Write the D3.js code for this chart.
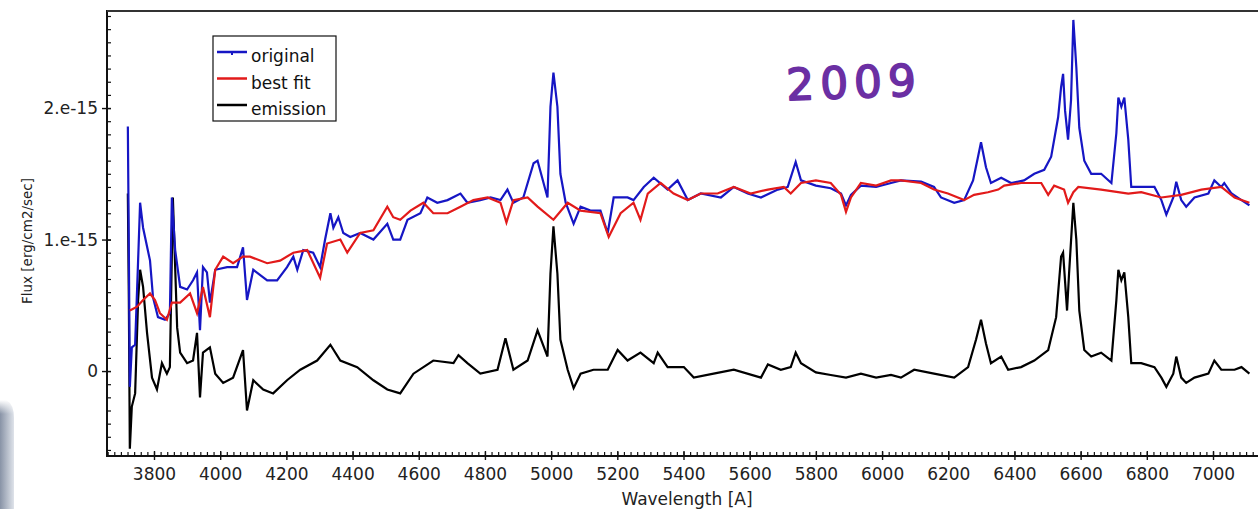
<!DOCTYPE html>
<html>
<head>
<meta charset="utf-8">
<script src="https://cdn.jsdelivr.net/npm/d3@7"></script>
<style>
  html, body { margin: 0; padding: 0; background: #fff; overflow: hidden; }
  svg { display: block; font-family: "DejaVu Sans", Verdana, sans-serif; }
</style>
</head>
<body>
<svg id="chart" width="1258" height="509"></svg>
<script>
'use strict';

// wavelength [A], flux in units of 1e-15 erg/cm2/sec
var original = [
  [3721,1.86],[3724,0.92],[3727,-0.12],[3733,0.18],[3743,0.20],[3752,0.84],[3758,1.28],[3767,1.09],
  [3788,0.84],[3797,0.56],[3812,0.41],[3833,0.39],[3848,0.44],[3854,1.32],[3864,0.92],[3879,0.64],
  [3900,0.62],[3918,0.69],[3930,0.75],[3939,0.31],[3948,0.79],[3960,0.75],[3969,0.52],[3985,0.77],
  [4021,0.79],[4051,0.79],[4069,0.94],[4081,0.54],[4100,0.77],[4142,0.69],[4172,0.69],[4202,0.79],
  [4221,0.87],[4233,0.77],[4251,0.92],[4281,0.90],[4302,0.79],[4317,1.00],[4333,1.20],[4342,1.09],
  [4357,1.17],[4372,1.05],[4393,1.02],[4423,1.05],[4463,1.00],[4505,1.12],[4523,1.00],[4544,1.00],
  [4566,1.15],[4605,1.20],[4626,1.32],[4656,1.28],[4687,1.30],[4726,1.35],[4747,1.28],[4786,1.30],
  [4817,1.32],[4847,1.30],[4868,1.38],[4886,1.28],[4916,1.32],[4947,1.58],[4959,1.60],[4989,1.32],
  [4998,2.01],[5007,2.27],[5019,2.01],[5028,1.50],[5044,1.28],[5068,1.12],[5089,1.25],[5119,1.22],
  [5149,1.22],[5171,1.05],[5189,1.32],[5231,1.32],[5249,1.30],[5280,1.40],[5310,1.47],[5352,1.38],
  [5382,1.45],[5413,1.30],[5452,1.35],[5513,1.32],[5552,1.40],[5594,1.35],[5634,1.32],[5685,1.38],
  [5715,1.40],[5739,1.59],[5755,1.45],[5800,1.41],[5845,1.39],[5876,1.35],[5891,1.26],[5906,1.34],
  [5936,1.41],[5982,1.40],[6027,1.43],[6057,1.45],[6118,1.44],[6157,1.40],[6178,1.32],[6218,1.28],
  [6248,1.30],[6275,1.45],[6290,1.63],[6299,1.74],[6314,1.55],[6329,1.43],[6360,1.47],[6390,1.43],
  [6429,1.45],[6460,1.50],[6490,1.53],[6511,1.63],[6532,1.93],[6541,2.16],[6547,2.26],[6553,1.98],
  [6562,1.76],[6571,2.06],[6578,2.67],[6587,2.31],[6596,1.85],[6611,1.60],[6632,1.50],[6662,1.50],
  [6693,1.43],[6708,1.81],[6714,2.08],[6723,2.01],[6732,2.08],[6744,1.76],[6753,1.40],[6783,1.40],
  [6823,1.40],[6844,1.30],[6859,1.19],[6880,1.32],[6889,1.44],[6904,1.30],[6919,1.25],[6944,1.32],
  [6986,1.35],[7004,1.45],[7025,1.40],[7034,1.43],[7056,1.35],[7086,1.30],[7110,1.26]
];

var bestFit = [
  [3727,0.46],[3749,0.49],[3767,0.54],[3788,0.59],[3803,0.54],[3818,0.44],[3839,0.39],[3854,0.52],
  [3879,0.52],[3909,0.59],[3930,0.44],[3948,0.64],[3969,0.41],[3985,0.77],[4009,0.87],[4039,0.82],
  [4069,0.87],[4090,0.87],[4142,0.82],[4181,0.84],[4221,0.90],[4263,0.92],[4302,0.71],[4323,0.97],
  [4363,1.00],[4384,0.90],[4423,1.05],[4463,1.07],[4505,1.25],[4523,1.17],[4544,1.15],[4575,1.22],
  [4614,1.28],[4644,1.20],[4687,1.20],[4726,1.25],[4765,1.30],[4808,1.32],[4847,1.28],[4865,1.13],
  [4886,1.30],[4929,1.32],[4959,1.25],[5007,1.15],[5050,1.28],[5089,1.22],[5149,1.20],[5174,1.02],
  [5210,1.20],[5249,1.28],[5270,1.15],[5292,1.35],[5331,1.43],[5370,1.35],[5413,1.30],[5452,1.35],
  [5503,1.35],[5552,1.40],[5603,1.35],[5655,1.38],[5703,1.40],[5724,1.35],[5755,1.43],[5800,1.45],
  [5845,1.43],[5876,1.34],[5891,1.21],[5906,1.32],[5936,1.43],[5982,1.41],[6027,1.45],[6057,1.45],
  [6118,1.43],[6157,1.38],[6199,1.35],[6248,1.30],[6278,1.34],[6320,1.36],[6351,1.38],[6369,1.41],
  [6420,1.43],[6481,1.43],[6502,1.34],[6520,1.41],[6550,1.38],[6562,1.28],[6578,1.36],[6593,1.40],
  [6662,1.38],[6744,1.35],[6783,1.36],[6844,1.32],[6904,1.34],[6965,1.38],[7025,1.40],[7065,1.32],
  [7110,1.28]
];

var emission = [
  [3721,1.35],[3724,0.54],[3727,-0.59],[3733,-0.27],[3743,-0.17],[3752,0.54],[3758,0.77],[3767,0.64],
  [3779,0.29],[3794,-0.05],[3809,-0.14],[3824,0.06],[3839,-0.02],[3848,0.03],[3857,1.32],[3870,0.33],
  [3879,0.14],[3900,0.06],[3918,0.08],[3930,0.29],[3939,-0.20],[3948,0.14],[3969,0.18],[3985,-0.02],
  [4009,-0.09],[4039,-0.05],[4069,0.16],[4081,-0.30],[4100,-0.07],[4130,-0.14],[4160,-0.17],[4202,-0.07],
  [4242,0.01],[4293,0.08],[4333,0.20],[4363,0.08],[4414,0.03],[4463,-0.07],[4505,-0.14],[4544,-0.17],
  [4584,-0.02],[4644,0.08],[4705,0.06],[4720,0.12],[4747,0.06],[4786,-0.02],[4838,0.01],[4862,0.25],
  [4886,0.01],[4929,0.08],[4959,0.31],[4989,0.11],[4998,0.74],[5007,1.10],[5019,0.74],[5028,0.24],
  [5050,0.01],[5068,-0.13],[5089,-0.02],[5128,0.01],[5171,0.01],[5201,0.16],[5231,0.08],[5270,0.14],
  [5310,0.06],[5322,0.14],[5352,0.03],[5401,0.03],[5431,-0.05],[5491,-0.02],[5552,0.01],[5634,-0.05],
  [5655,0.05],[5694,0.01],[5724,0.03],[5739,0.14],[5755,0.06],[5800,-0.01],[5845,-0.03],[5891,-0.05],
  [5936,-0.02],[5982,-0.05],[6027,-0.03],[6057,-0.05],[6097,0.01],[6157,-0.02],[6218,-0.05],[6260,0.03],
  [6284,0.24],[6299,0.39],[6314,0.21],[6329,0.06],[6360,0.11],[6381,0.01],[6420,0.03],[6460,0.08],
  [6502,0.16],[6526,0.41],[6541,0.87],[6547,0.90],[6559,0.46],[6565,0.74],[6578,1.28],[6587,1.00],
  [6596,0.46],[6611,0.16],[6632,0.11],[6662,0.14],[6693,0.08],[6708,0.54],[6714,0.77],[6723,0.69],
  [6732,0.75],[6744,0.41],[6753,0.06],[6783,0.06],[6823,0.03],[6844,-0.05],[6859,-0.12],[6880,-0.02],
  [6889,0.11],[6904,-0.05],[6919,-0.09],[6944,-0.05],[6986,-0.02],[7004,0.08],[7025,0.01],[7065,0.01],
  [7086,0.03],[7110,-0.02]
];

var seriesNames = ['original', 'best fit', 'emission'];
var seriesColors = ['#1616c4', '#e21a1a', '#000000'];
var xTicks = [3800, 4000, 4200, 4400, 4600, 4800, 5000, 5200, 5400, 5600, 5800, 6000, 6200, 6400, 6600, 6800, 7000];
var yTicks = [0, 1, 2];
var yTickLabels = ['0', '1.e-15', '2.e-15'];

var W = 1258, H = 509;
var plot = {left: 107, top: 11, right: 1260, bottom: 456};

var svg = d3.select('#chart');

var x = d3.scaleLinear().domain([3658, 7142]).range([plot.left, plot.right]);
var y = d3.scaleLinear().domain([-0.646, 2.738]).range([plot.bottom, plot.top]);

// corner shading left over from the screenshot
var defs = svg.append('defs');
var grad = defs.append('linearGradient').attr('id', 'corner').attr('x1', 0).attr('y1', 0).attr('x2', 1).attr('y2', 0);
grad.append('stop').attr('offset', '0%').attr('stop-color', '#8893a6');
grad.append('stop').attr('offset', '100%').attr('stop-color', '#dfe3ea');
var vgrad = defs.append('linearGradient').attr('id', 'cornerFade').attr('x1', 0).attr('y1', 0).attr('x2', 0).attr('y2', 1);
vgrad.append('stop').attr('offset', '0%').attr('stop-color', '#fff').attr('stop-opacity', 1);
vgrad.append('stop').attr('offset', '35%').attr('stop-color', '#fff').attr('stop-opacity', 0);
svg.append('path')
  .attr('d', 'M0,400 L6,400 Q14,404 14,418 L14,509 L0,509 Z')
  .attr('fill', 'url(#corner)');
svg.append('rect').attr('x', 0).attr('y', 400).attr('width', 14).attr('height', 40).attr('fill', 'url(#cornerFade)');

defs.append('clipPath').attr('id', 'plotClip')
  .append('rect')
  .attr('x', plot.left).attr('y', plot.top)
  .attr('width', plot.right - plot.left).attr('height', plot.bottom - plot.top);

// x axis: minor ticks inward, major ticks crossing
var xMinor = d3.range(3660, 7141, 20);
svg.append('g')
  .attr('transform', 'translate(0,' + plot.bottom + ')')
  .call(d3.axisBottom(x).tickValues(xMinor).tickSize(-4).tickFormat(''))
  .call(g => g.select('.domain').remove())
  .call(g => g.selectAll('line').attr('stroke', '#111').attr('stroke-width', 1.2));

var xAxis = svg.append('g')
  .attr('transform', 'translate(0,' + plot.bottom + ')')
  .call(d3.axisBottom(x).tickValues(xTicks).tickSize(4).tickPadding(8).tickFormat(d3.format('d')));
xAxis.select('.domain').remove();
xAxis.selectAll('line').attr('y1', -5).attr('stroke', '#111').attr('stroke-width', 1.4);
xAxis.selectAll('text').attr('font-size', '17px').attr('fill', '#222').attr('font-family', '"DejaVu Sans", Verdana, sans-serif');

// y axis
var yMinor = d3.range(-6, 28).map(d => d / 10);
svg.append('g')
  .attr('transform', 'translate(' + plot.left + ',0)')
  .call(d3.axisLeft(y).tickValues(yMinor).tickSize(-4).tickFormat(''))
  .call(g => g.select('.domain').remove())
  .call(g => g.selectAll('line').attr('stroke', '#111').attr('stroke-width', 1.2));

var yAxis = svg.append('g')
  .attr('transform', 'translate(' + plot.left + ',0)')
  .call(d3.axisLeft(y).tickValues(yTicks).tickSize(5).tickPadding(4).tickFormat((d, i) => yTickLabels[i]));
yAxis.select('.domain').remove();
yAxis.selectAll('line').attr('x1', 4).attr('stroke', '#111').attr('stroke-width', 1.4);
yAxis.selectAll('text').attr('font-size', '17px').attr('fill', '#222').attr('font-family', '"DejaVu Sans", Verdana, sans-serif');

// frame lines
svg.append('line')
  .attr('x1', plot.left).attr('x2', plot.left).attr('y1', plot.top - 1).attr('y2', plot.bottom + 1)
  .attr('stroke', '#111').attr('stroke-width', 2);
svg.append('line')
  .attr('x1', plot.left).attr('x2', W).attr('y1', plot.bottom).attr('y2', plot.bottom)
  .attr('stroke', '#111').attr('stroke-width', 2);
svg.append('line')
  .attr('x1', plot.left).attr('x2', W).attr('y1', plot.top).attr('y2', plot.top)
  .attr('stroke', '#333').attr('stroke-width', 2);

// axis titles
svg.append('text')
  .attr('x', 687).attr('y', 505)
  .attr('text-anchor', 'middle')
  .attr('font-size', '17px').attr('fill', '#222')
  .text('Wavelength [A]');

svg.append('text')
  .attr('transform', 'translate(32,241)rotate(-90)')
  .attr('text-anchor', 'middle')
  .attr('font-size', '13.5px').attr('fill', '#222')
  .text('Flux [erg/cm2/sec]');

// spectra
var line = d3.line()
  .x(d => x(d[0]))
  .y(d => y(d[1]));

var series = [original, bestFit, emission];
var curves = svg.append('g').attr('clip-path', 'url(#plotClip)');
[2, 0, 1].forEach(function(i) {
  curves.append('path')
    .datum(series[i])
    .attr('fill', 'none')
    .attr('stroke', seriesColors[i])
    .attr('stroke-width', 2.2)
    .attr('stroke-linejoin', 'miter')
    .attr('d', line);
});

// legend
var legend = svg.append('g').attr('transform', 'translate(213,36)');
legend.append('rect')
  .attr('x', 0).attr('y', 0).attr('width', 123).attr('height', 85)
  .attr('fill', '#fff').attr('stroke', '#111').attr('stroke-width', 1.2);
var item = legend.selectAll('.item')
  .data(seriesNames)
  .enter().append('g')
  .attr('class', 'item')
  .attr('transform', (d, i) => 'translate(0,' + (16 + i * 26.5) + ')');
item.append('line')
  .attr('x1', 4).attr('x2', 34).attr('y1', 0).attr('y2', 0)
  .attr('stroke', (d, i) => seriesColors[i]).attr('stroke-width', 2.5);
item.filter((d, i) => i === 0).append('rect')
  .attr('x', 18).attr('y', 0).attr('width', 2).attr('height', 3)
  .attr('fill', seriesColors[0]);
item.append('text')
  .attr('x', 38).attr('y', 10)
  .attr('font-size', '17px').attr('fill', '#111')
  .text(d => d);

// handwritten year note
svg.append('text')
  .attr('x', 786).attr('y', 98)
  .attr('font-family', '"DejaVu Sans", sans-serif')
  .attr('font-size', '44px')
  .attr('letter-spacing', '6px')
  .attr('transform', 'rotate(-2,850,80)')
  .attr('fill', '#6b2fa3')
  .attr('stroke', '#6b2fa3').attr('stroke-width', 1.6)
  .attr('stroke-linejoin', 'round')
  .text('2009');
</script>
</body>
</html>
